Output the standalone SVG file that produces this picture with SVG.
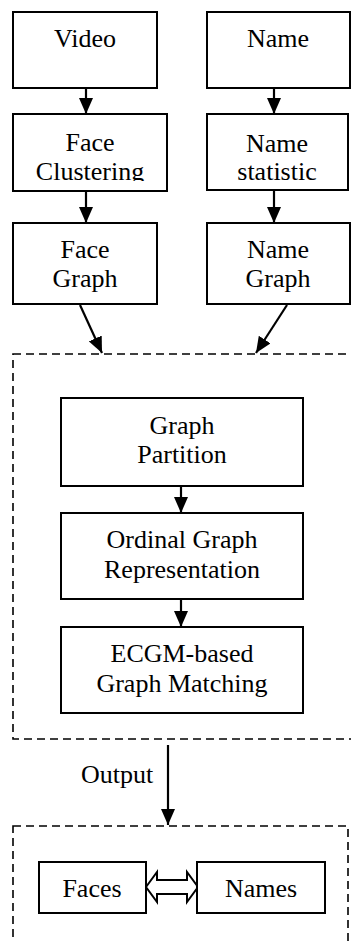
<svg xmlns="http://www.w3.org/2000/svg" width="351" height="941" viewBox="0 0 351 941">
<style>
.box{fill:#fff;stroke:#000;stroke-width:2}
.dash{fill:none;stroke:#000;stroke-width:1.6;stroke-dasharray:8 5}
.t{font-family:'Liberation Serif','Times New Roman',serif;font-size:26px;fill:#000;text-anchor:middle}
.line{stroke:#000;stroke-width:2.2;fill:none}
</style>
<defs>
<marker id="ah" markerWidth="16" markerHeight="14" refX="16" refY="7" orient="auto" markerUnits="userSpaceOnUse" viewBox="0 0 16 14">
<path d="M0,0 L16,7 L0,14 Z" fill="#000"/>
</marker>
<clipPath id="clipFC"><rect x="13" y="114" width="154" height="67"/></clipPath>
</defs>
<rect width="351" height="941" fill="#fff"/>
<g id="containers">
<rect class="dash" x="13" y="354" width="350" height="385"/>
<rect class="dash" x="13" y="826" width="335" height="130"/>
</g>
<g id="connectors">
<line class="line" x1="86" y1="88" x2="86" y2="114" marker-end="url(#ah)"/>
<line class="line" x1="86" y1="191" x2="86" y2="223" marker-end="url(#ah)"/>
<line class="line" x1="274" y1="88" x2="274" y2="114" marker-end="url(#ah)"/>
<line class="line" x1="274" y1="190" x2="274" y2="223" marker-end="url(#ah)"/>
<line class="line" x1="80" y1="305" x2="102" y2="353" marker-end="url(#ah)"/>
<line class="line" x1="287" y1="305" x2="256" y2="353" marker-end="url(#ah)"/>
<line class="line" x1="181" y1="486" x2="181" y2="513" marker-end="url(#ah)"/>
<line class="line" x1="181" y1="599" x2="181" y2="627" marker-end="url(#ah)"/>
<line class="line" x1="168" y1="745" x2="168" y2="825" marker-end="url(#ah)"/>
<path d="M146,887 L157,872 L157,880 L187,880 L187,872 L198,887 L187,902 L187,894 L157,894 L157,902 Z" fill="#fff" stroke="#000" stroke-width="2" stroke-linejoin="miter"/>
</g>
<g id="video"><rect class="box" x="13" y="12" width="144" height="76"/><text class="t" x="85" y="47">Video</text></g>
<g id="name"><rect class="box" x="207" y="12" width="143" height="76"/><text class="t" x="278" y="47">Name</text></g>
<g id="face-clustering"><rect class="box" x="13" y="114" width="154" height="77"/><g clip-path="url(#clipFC)"><text class="t" x="90" y="151">Face</text><text class="t" x="90" y="180">Clustering</text></g></g>
<g id="name-statistic"><rect class="box" x="207" y="114" width="141" height="76"/><text class="t" x="277" y="152">Name</text><text class="t" x="277" y="180">statistic</text></g>
<g id="face-graph"><rect class="box" x="13" y="223" width="144" height="81"/><text class="t" x="85" y="258">Face</text><text class="t" x="85" y="287">Graph</text></g>
<g id="name-graph"><rect class="box" x="207" y="223" width="143" height="81"/><text class="t" x="278" y="258">Name</text><text class="t" x="278" y="287">Graph</text></g>
<g id="graph-partition"><rect class="box" x="61" y="398" width="242" height="88"/><text class="t" x="182" y="434">Graph</text><text class="t" x="182" y="463">Partition</text></g>
<g id="ordinal"><rect class="box" x="61" y="513" width="242" height="86"/><text class="t" x="182" y="548">Ordinal Graph</text><text class="t" x="182" y="578">Representation</text></g>
<g id="ecgm"><rect class="box" x="61" y="627" width="242" height="86"/><text class="t" x="182" y="662">ECGM-based</text><text class="t" x="182" y="692">Graph Matching</text></g>
<g id="output-label"><text class="t" x="117" y="783">Output</text></g>
<g id="faces"><rect class="box" x="39" y="862" width="107" height="51"/><text class="t" x="92" y="897">Faces</text></g>
<g id="names"><rect class="box" x="197" y="862" width="128" height="51"/><text class="t" x="261" y="897">Names</text></g>
</svg>
